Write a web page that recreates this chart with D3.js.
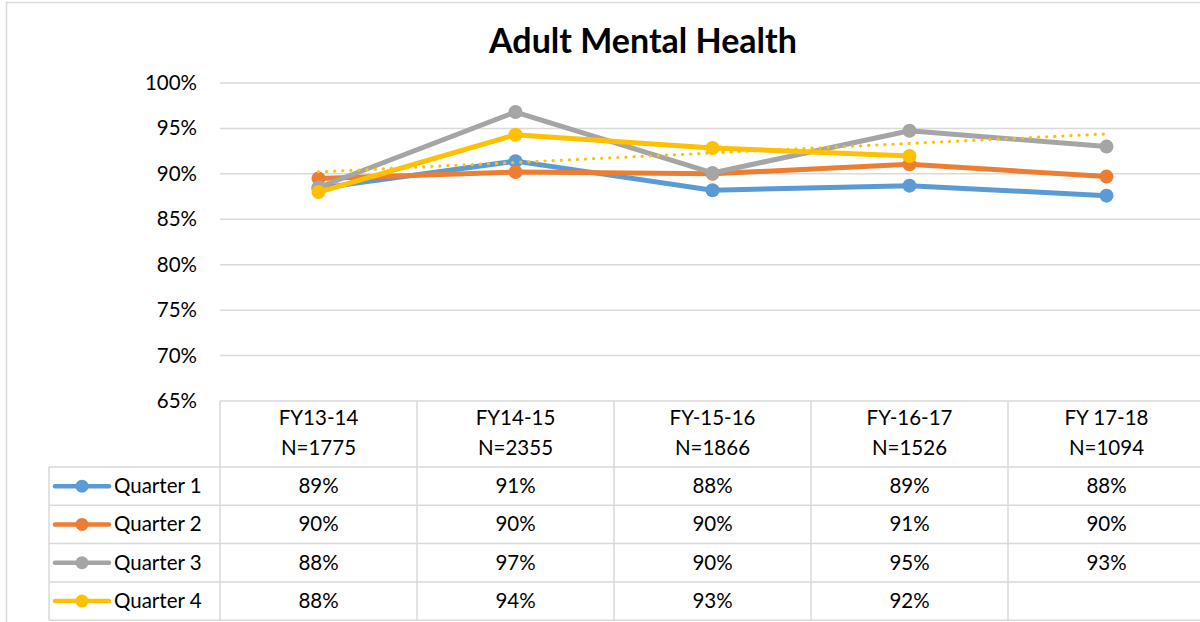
<!DOCTYPE html>
<html><head><meta charset="utf-8">
<script src="https://cdn.jsdelivr.net/npm/d3@7"></script>
<style>body{margin:0;background:#fff}svg{display:block}text{font-family:Lato,"Open Sans",sans-serif;fill:#000}</style>
</head><body>
<svg id="c" width="1200" height="622"></svg>
<script>
const categories = ["FY13-14","FY14-15","FY-15-16","FY-16-17","FY 17-18"];
const counts = ["N=1775","N=2355","N=1866","N=1526","N=1094"];
const seriesNames = ["Quarter 1","Quarter 2","Quarter 3","Quarter 4"];
const q1 = [88.4, 91.4, 88.2, 88.7, 87.6];
const q2 = [89.5, 90.2, 90.0, 91.05, 89.7];
const q3 = [88.5, 96.8, 90.1, 94.75, 93.0];
const q4 = [88.0, 94.3, 92.85, 91.97, null];
const q1Labels = ["89%","91%","88%","89%","88%"];
const q2Labels = ["90%","90%","90%","91%","90%"];
const q3Labels = ["88%","97%","90%","95%","93%"];
const q4Labels = ["88%","94%","93%","92%",""];
const yTicks = [65,70,75,80,85,90,95,100];
const colors = ["#5B9BD5","#ED7D31","#A5A5A5","#FFC000"];

const series = [q1,q2,q3,q4];
const labels = [q1Labels,q2Labels,q3Labels,q4Labels];
const svg = d3.select("#c");
const gridC = "#d9d9d9";
const FS = "20.5px";
const L = 220, R = 1205, T = 83, B = 401;
const x = d3.scaleBand().domain(categories).range([L, R]);
const cx = c => x(c) + x.bandwidth()/2;
const y = d3.scaleLinear().domain([65,100]).range([B, T]);

// outer border
svg.append("rect").attr("x",6.5).attr("y",2.5).attr("width",1300).attr("height",700)
  .attr("fill","none").attr("stroke",gridC).attr("stroke-width",1.5);

// title
svg.append("text").attr("x",643).attr("y",53).attr("text-anchor","middle")
  .style("font-size","34px").style("font-weight","bold").text("Adult Mental Health");

// gridlines
svg.append("g").selectAll("line").data(yTicks.filter(t=>t>65)).join("line")
  .attr("x1",L).attr("x2",R).attr("y1",d=>y(d)).attr("y2",d=>y(d))
  .attr("stroke",gridC).attr("stroke-width",1.5);

// y axis labels
svg.append("g").selectAll("text").data(yTicks).join("text")
  .attr("x",197).attr("y",d=>y(d)+7).attr("text-anchor","end")
  .style("font-size",FS).text(d=>d+"%");

// data table
const rowTop = 467, rowH = 38.3, tableBottom = 620;
const tg = svg.append("g").attr("stroke",gridC).attr("stroke-width",1.5);
tg.append("line").attr("x1",L).attr("x2",R).attr("y1",B).attr("y2",B);
tg.append("line").attr("x1",49).attr("x2",R).attr("y1",rowTop).attr("y2",rowTop);
seriesNames.forEach((s,i)=>{
  const yy = rowTop + (i+1)*rowH;
  tg.append("line").attr("x1",49).attr("x2",R).attr("y1",yy).attr("y2",yy);
});
tg.append("line").attr("x1",49).attr("x2",49).attr("y1",rowTop).attr("y2",tableBottom);
categories.forEach(c=>{
  tg.append("line").attr("x1",x(c)).attr("x2",x(c)).attr("y1",B).attr("y2",tableBottom);
});
// header
categories.forEach((c,i)=>{
  svg.append("text").attr("x",cx(c)).attr("y",425).attr("text-anchor","middle").style("font-size",FS).text(c);
  svg.append("text").attr("x",cx(c)).attr("y",455).attr("text-anchor","middle").style("font-size",FS).text(counts[i]);
});
// rows
seriesNames.forEach((s,i)=>{
  const my = rowTop + i*rowH + rowH/2;
  svg.append("line").attr("x1",55).attr("x2",109).attr("y1",my).attr("y2",my)
    .attr("stroke",colors[i]).attr("stroke-width",4.5).attr("stroke-linecap","round");
  svg.append("circle").attr("cx",82).attr("cy",my).attr("r",6.5).attr("fill",colors[i]);
  svg.append("text").attr("x",114).attr("y",my+7).style("font-size",FS).text(s);
  labels[i].forEach((lab,j)=>{
    svg.append("text").attr("x",cx(categories[j])).attr("y",my+7).attr("text-anchor","middle")
      .style("font-size",FS).text(lab);
  });
});

// lines
const line = d3.line().defined(d=>d.v!=null).x(d=>cx(d.c)).y(d=>y(d.v));
series.forEach((s,i)=>{
  const pts = s.map((v,j)=>({c:categories[j],v}));
  svg.append("path").datum(pts).attr("d",line).attr("fill","none")
    .attr("stroke",colors[i]).attr("stroke-width",5).attr("stroke-linejoin","round");
  svg.append("g").selectAll("circle").data(pts.filter(d=>d.v!=null)).join("circle")
    .attr("cx",d=>cx(d.c)).attr("cy",d=>y(d.v)).attr("r",7).attr("fill",colors[i]);
});

// linear trendline for Quarter 4 (least squares), extended across all categories
const pts4 = q4.map((v,j)=>({j:j+1,v})).filter(d=>d.v!=null);
const mx = d3.mean(pts4,d=>d.j), my4 = d3.mean(pts4,d=>d.v);
const slope = d3.sum(pts4,d=>(d.j-mx)*(d.v-my4))/d3.sum(pts4,d=>(d.j-mx)**2);
const trend = categories.map((c,j)=>({c, v: my4 + slope*((j+1)-mx)}));
svg.append("path").datum([trend[0],trend[trend.length-1]]).attr("d",line).attr("fill","none")
  .attr("stroke",colors[3]).attr("stroke-width",3.2).attr("stroke-linecap","round")
  .attr("stroke-dasharray","0.1 8");
</script>
</body></html>
